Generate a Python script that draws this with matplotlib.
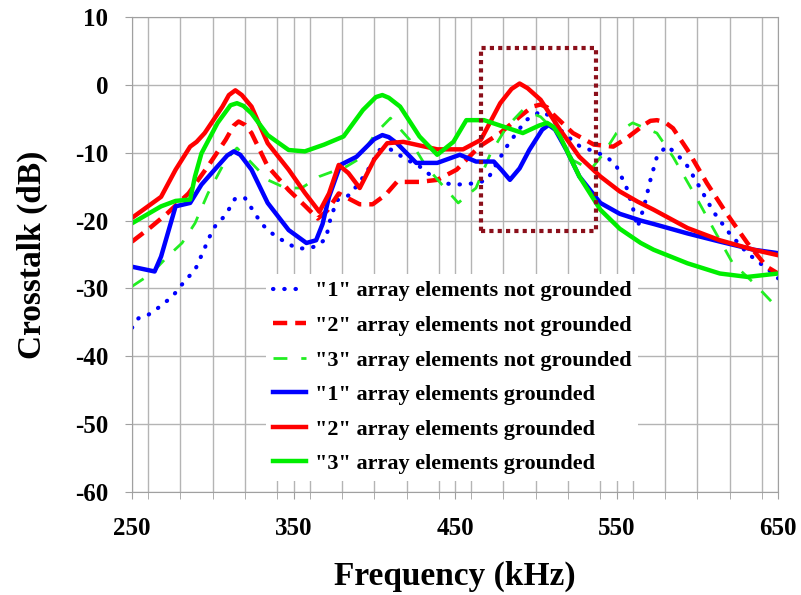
import matplotlib
matplotlib.use('Agg')
import matplotlib.pyplot as plt
from matplotlib.patches import Rectangle
from matplotlib.ticker import MultipleLocator, FixedLocator

plt.rcParams['font.family'] = ['Liberation Serif', 'DejaVu Serif']
plt.rcParams['font.weight'] = 'bold'
plt.rcParams['axes.unicode_minus'] = False

# "1" array elements not grounded (blue dotted)
x1n = [250, 254, 260, 266, 275, 283, 289, 294, 298, 302, 308, 311, 314, 320, 326, 330, 335, 341, 346, 352,
       358, 364, 370, 373, 377, 385, 395, 403, 410, 420, 428, 433, 443, 451, 463, 470, 476, 482, 488, 494,
       503, 509, 517, 527, 536, 544, 550, 556, 560, 563, 567, 571, 575, 581, 587, 594, 602, 610, 620, 631,
       639, 647, 650]
y1n = [-35.8, -34.4, -33.9, -32.9, -31.2, -28.8, -27.3, -24.6, -22.4, -20.6, -19.2, -17.9, -16.7, -16.7, -18.9,
       -20.4, -21.6, -22.6, -23.3, -24.1, -24.1, -23.8, -22.7, -19.6, -17.0, -16.2, -13.0, -9.6, -9.5, -11.0,
       -12.0, -13.0, -14.5, -14.7, -14.5, -14.0, -11.5, -9.1, -7.1, -5.2, -3.9, -4.6, -7.1, -9.0, -9.8, -10.6,
       -12.0, -15.0, -18.0, -21.0, -18.0, -14.0, -10.6, -9.0, -10.1, -12.0, -15.3, -18.7, -21.9, -24.8,
       -26.3, -27.8, -28.5]

# "2" array elements not grounded (red dashed)
x2n = [250, 262, 272, 285, 297, 308, 313, 316, 320, 324, 334, 347, 357, 365, 371, 378, 391, 399, 407, 414,
       428, 439, 451, 465, 478, 490, 498, 503, 507, 511, 523, 536, 548, 556, 567, 571, 575, 580, 585, 594,
       606, 618, 631, 643, 650]
y2n = [-23.1, -20.9, -18.9, -16.0, -12.0, -8.1, -6.0, -5.4, -5.9, -7.1, -12.0, -15.5, -17.8, -19.7, -18.5,
       -16.0, -17.6, -17.6, -16.2, -14.3, -14.3, -14.0, -12.5, -9.1, -7.1, -4.7, -3.2, -2.9, -3.3, -4.4,
       -7.1, -8.8, -9.1, -7.9, -5.9, -5.3, -5.2, -5.5, -6.4, -9.6, -14.5, -18.9, -23.3, -26.8, -27.8]

# "3" array elements not grounded (green dashed)
x3n = [250, 262, 272, 281, 289, 297, 308, 315, 324, 334, 345, 355, 366, 383, 390, 401, 410, 422, 432, 443,
       452, 463, 472, 482, 492, 503, 513, 523, 534, 542, 550, 560, 575, 585, 598, 610, 622, 635, 645, 650]
y3n = [-29.7, -27.8, -25.3, -23.3, -20.4, -16.0, -11.1, -9.3, -11.5, -14.0, -15.2, -15.2, -13.5, -12.0, -11.0,
       -7.1, -4.9, -8.1, -12.0, -15.0, -17.4, -15.2, -10.1, -6.2, -3.7, -4.7, -7.1, -11.1, -12.5, -10.1,
       -7.1, -5.6, -7.1, -10.6, -16.0, -21.2, -26.3, -29.2, -31.7, -33.0]

# "1" array elements grounded (blue solid)
x1g = [250, 264, 268, 277, 286, 293, 303, 309, 313, 317, 324, 334, 347, 358, 364, 368, 372, 379, 389, 400,
       405, 409, 414, 426, 439, 453, 463, 474, 479, 484, 490, 496, 504, 508, 512, 519, 527, 540, 552, 565,
       573, 594, 614, 635, 650]
y1g = [-26.8, -27.5, -25.3, -17.9, -17.4, -14.7, -12.0, -10.4, -9.8, -10.3, -12.5, -17.4, -21.4, -23.3, -22.9,
       -20.5, -16.5, -11.8, -10.6, -8.0, -7.4, -7.7, -8.6, -11.5, -11.5, -10.3, -11.3, -11.3, -12.6, -14.0,
       -12.3, -9.6, -6.6, -5.9, -6.6, -9.6, -13.5, -17.4, -19.0, -20.0, -20.5, -21.9, -23.1, -24.3, -24.8]

# "2" array elements grounded (red solid)
x2g = [250, 268, 277, 286, 290, 295, 306, 310, 314, 318, 324, 334, 347, 357, 366, 372, 378, 384, 391, 400,
       408, 418, 439, 455, 466, 478, 485, 490, 495, 503, 515, 527, 540, 552, 563, 573, 594, 614, 635, 650]
y2g = [-19.6, -16.5, -12.5, -9.1, -8.4, -7.1, -3.2, -1.5, -0.8, -1.5, -3.2, -8.6, -12.5, -15.9, -18.7, -16.0,
       -11.8, -13.0, -15.2, -11.0, -8.6, -8.4, -9.5, -9.5, -8.1, -2.7, -0.6, 0.2, -0.5, -2.2, -6.6, -10.6,
       -13.5, -15.7, -17.2, -18.4, -21.1, -22.9, -24.3, -25.1]

# "3" array elements grounded (green solid)
x3g = [250, 268, 277, 286, 289, 293, 303, 311, 315, 319, 324, 334, 347, 357, 369, 381, 393, 401, 405, 409,
       416, 428, 439, 449, 457, 468, 478, 492, 502, 507, 511, 515, 527, 540, 552, 565, 573, 594, 614, 631,
       650]
y3g = [-20.4, -17.9, -17.1, -16.9, -13.5, -10.1, -5.6, -3.0, -2.7, -3.1, -4.2, -7.4, -9.6, -9.8, -8.8, -7.6,
       -3.7, -1.8, -1.5, -1.9, -3.2, -7.6, -10.3, -8.4, -5.2, -5.2, -6.0, -7.1, -6.0, -5.6, -6.2, -7.6,
       -13.5, -18.4, -21.2, -23.3, -24.3, -26.3, -27.8, -28.3, -27.8]

labels = ['"1" array elements not grounded', '"2" array elements not grounded',
          '"3" array elements not grounded', '"1" array elements grounded',
          '"2" array elements grounded', '"3" array elements grounded']

xticks = [250, 350, 450, 550, 650]

# highlighted region (kHz, dB)
box_x0, box_x1 = 466, 537
box_y0, box_y1 = -21.5, 5.4

fig = plt.figure(figsize=(8.01, 5.95), dpi=100)
ax = fig.add_axes([0.1648, 0.1731, 0.8065, 0.7983])

ax.plot(x1n, y1n, color='#0000ff', lw=3, linestyle=(0, (0.1, 2.6)), dash_capstyle='round', label=labels[0])
ax.plot(x2n, y2n, color='#ff0000', lw=3.2, linestyle=(0, (3.2, 1.8)), label=labels[1])
ax.plot(x3n, y3n, color='#22ee22', lw=2, linestyle=(0, (5, 5)), label=labels[2])
ax.plot(x1g, y1g, color='#0000ff', lw=3.2, solid_joinstyle='round', label=labels[3])
ax.plot(x2g, y2g, color='#ff0000', lw=3.2, solid_joinstyle='round', label=labels[4])
ax.plot(x3g, y3g, color='#00ee00', lw=3.2, solid_joinstyle='round', label=labels[5])

ax.add_patch(Rectangle((box_x0, box_y0), box_x1 - box_x0, box_y1 - box_y0, fill=False,
                       edgecolor='#8b0f1a', lw=3, linestyle=(0, (1, 1)), zorder=5))

ax.set_xlim(250, 650)
ax.set_ylim(-60, 10)
ax.xaxis.set_major_locator(FixedLocator(xticks))
ax.xaxis.set_minor_locator(MultipleLocator(20))
ax.yaxis.set_major_locator(MultipleLocator(10))
ax.grid(True, which='both', color='#b4b4b4', lw=1)
ax.set_axisbelow(True)
for s in ax.spines.values():
    s.set_color('#a0a0a0')
ax.tick_params(which='both', colors='#a0a0a0', length=5, labelcolor='black', labelsize=18)
ax.tick_params(axis='x', which='major', pad=13)
ax.tick_params(axis='y', pad=12)

ax.set_xlabel('Frequency (kHz)', fontsize=24, fontweight='bold')
ax.set_ylabel('Crosstalk (dB)', fontsize=24, fontweight='bold')
ax.xaxis.set_label_coords(0.5, -0.145)
ax.yaxis.set_label_coords(-0.13, 0.5)

leg = ax.legend(loc='upper left', bbox_to_anchor=(0.19, 0.482), frameon=True, fontsize=16,
                handlelength=1.5, handletextpad=0.4, labelspacing=0.63, borderpad=0.3)
leg.get_frame().set_edgecolor('none')
leg.get_frame().set_facecolor('white')
leg.get_frame().set_alpha(1)

plt.savefig('out.png', dpi=100)
